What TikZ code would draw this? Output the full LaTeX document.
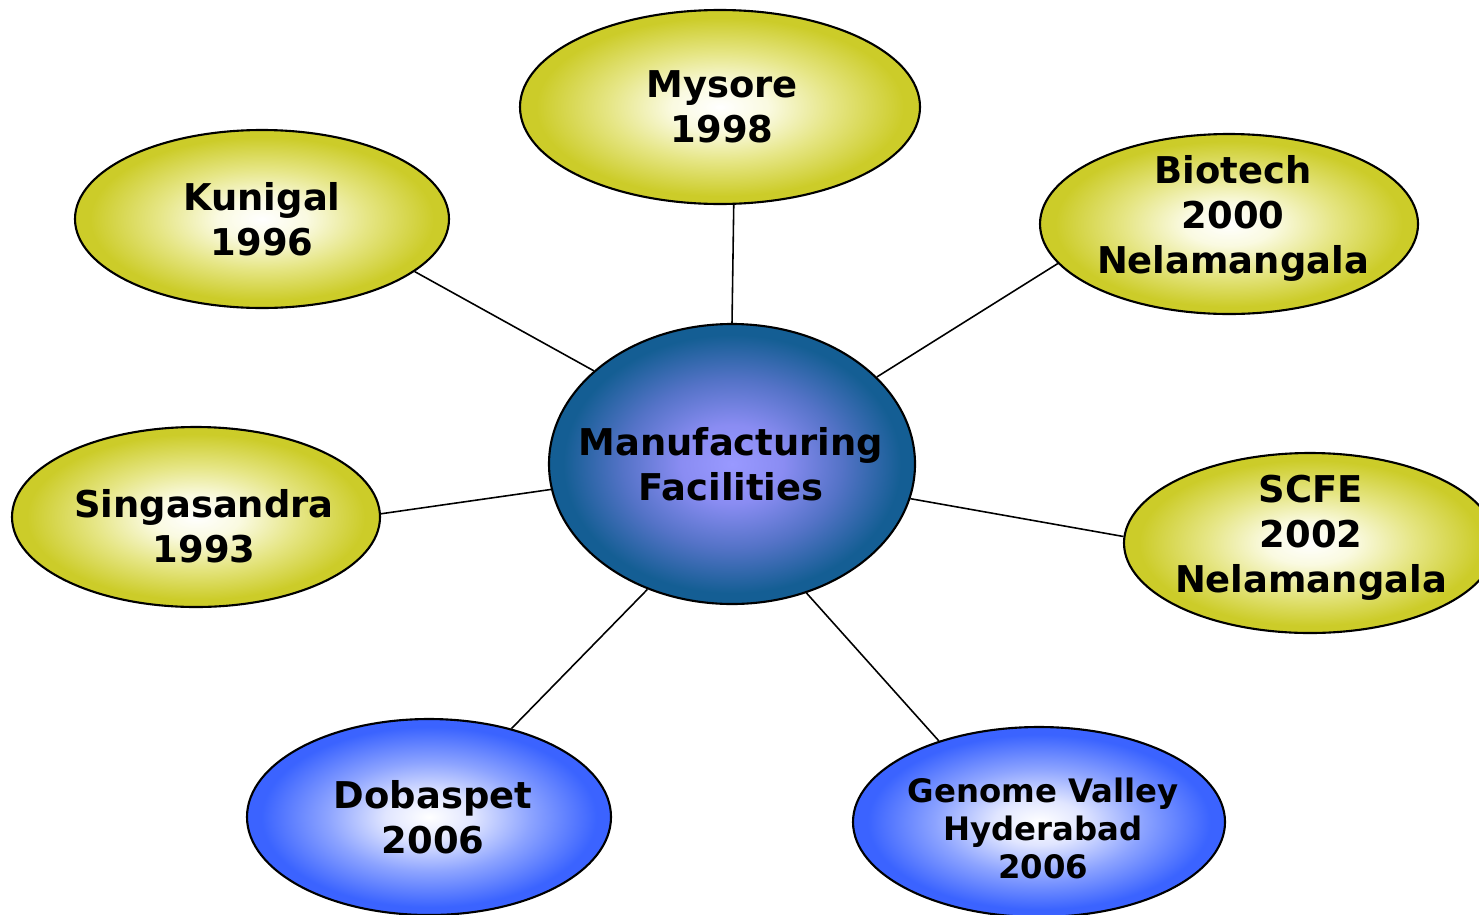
\documentclass[tikz,border=0pt]{standalone}
\usepackage{fontspec}
\setmainfont{DejaVu Sans}
\usetikzlibrary{shapes.geometric}

% glows: light centre, fading out to the rim
\pgfdeclareradialshading{yellowglow}{\pgfpoint{0bp}{0bp}}{rgb(0bp)=(1,1,1); rgb(6bp)=(0.98,0.98,0.88); rgb(14bp)=(0.90,0.90,0.52); rgb(23bp)=(0.80,0.80,0.16); rgb(50bp)=(0.80,0.80,0.16)}
\pgfdeclareradialshading{blueglow}{\pgfpoint{0bp}{0bp}}{rgb(0bp)=(1,1,1); rgb(6bp)=(0.88,0.90,1); rgb(14bp)=(0.55,0.64,1); rgb(23bp)=(0.23,0.39,1); rgb(50bp)=(0.23,0.39,1)}
\pgfdeclareradialshading{hubglow}{\pgfpoint{0bp}{0bp}}{rgb(0bp)=(0.60,0.60,1); rgb(7bp)=(0.54,0.55,0.95); rgb(15bp)=(0.33,0.45,0.78); rgb(23bp)=(0.08,0.37,0.58); rgb(50bp)=(0.08,0.37,0.58)}

\tikzset{
  site/.style={ellipse, draw, line width=0.6pt, inner sep=0pt},
  oldsite/.style={site, shading=yellowglow},
  newsite/.style={site, shading=blueglow},
  txt/.style={align=center, font=\bfseries\fontsize{10.5}{12.8}\selectfont, inner sep=0pt},
  smalltxt/.style={txt, font=\bfseries\fontsize{9.2}{10.8}\selectfont},
  link/.style={line width=0.45pt}
}

\begin{document}
\begin{tikzpicture}
        \useasboundingbox (0,0) rectangle (14.79,9.14);

        % hub
        \node[site, shading=hubglow,
              minimum width=3.66cm, minimum height=2.80cm,
              label={[txt, xshift=-0.01cm]center:{Manufacturing\\Facilities}}] (hub) at (7.32,4.50) {};

        % yellow sites
        \node[oldsite, minimum width=4.00cm, minimum height=1.94cm,
              label={[txt, xshift=0.02cm]center:{Mysore\\1998}}] (mysore) at (7.20,8.07) {};
        \node[oldsite, minimum width=3.74cm, minimum height=1.78cm,
              label={[txt]center:{Kunigal\\1996}}] (kunigal) at (2.62,6.95) {};
        \node[oldsite, minimum width=3.78cm, minimum height=1.80cm,
              label={[txt, xshift=0.04cm, yshift=0.06cm]center:{Biotech\\2000\\Nelamangala}}] (biotech) at (12.29,6.90) {};
        \node[oldsite, minimum width=3.68cm, minimum height=1.80cm,
              label={[txt, xshift=0.08cm, yshift=-0.09cm]center:{Singasandra\\1993}}] (singa) at (1.96,3.97) {};
        \node[oldsite, minimum width=3.72cm, minimum height=1.80cm,
              label={[txt, xshift=0.01cm, yshift=0.05cm]center:{SCFE\\2002\\Nelamangala}}] (scfe) at (13.10,3.71) {};

        % blue sites
        \node[newsite, minimum width=3.64cm, minimum height=1.96cm,
              label={[txt, xshift=0.04cm]center:{Dobaspet\\2006}}] (doba) at (4.29,0.97) {};
        \node[newsite, minimum width=3.72cm, minimum height=1.90cm,
              label={[smalltxt, xshift=0.04cm, yshift=-0.06cm]center:{Genome Valley\\Hyderabad\\2006}}] (genome) at (10.39,0.92) {};

        % spokes
        \draw[link] (mysore.-82.4) -- (hub.90);
        \draw[link] (kunigal.-19.3) -- (hub.146.4);
        \draw[link] (biotech.193.2) -- (hub.31);
        \draw[link] (singa.1.9) -- (hub.188.7);
        \draw[link] (scfe.178.5) -- (hub.-11.9);
        \draw[link] (doba.47) -- (hub.236.2);
        \draw[link] (genome.141.5) -- (hub.-60.4);
\end{tikzpicture}
\end{document}
